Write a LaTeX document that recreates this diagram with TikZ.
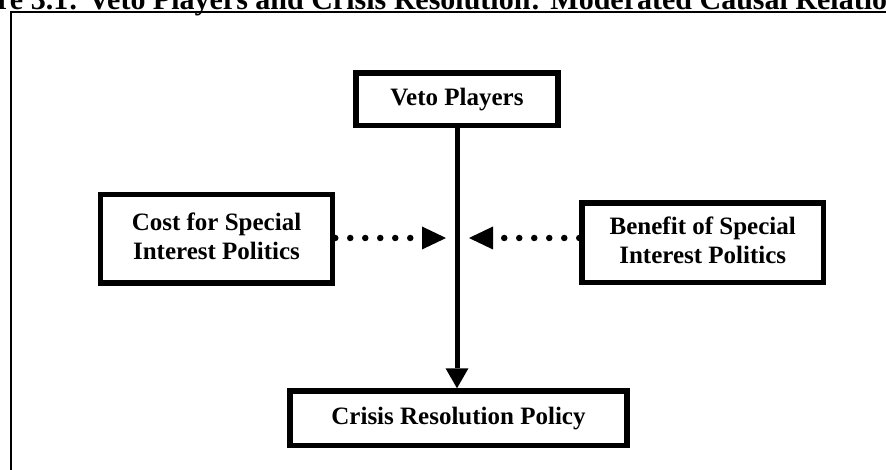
\documentclass[tikz,border=0pt]{standalone}
\usepackage{fontspec}
\setmainfont{Liberation Serif}
\usetikzlibrary{arrows.meta}
\begin{document}
\begin{tikzpicture}[x=1pt,y=-1pt,
  box/.style={draw, line width=5.5pt, align=center, inner sep=0pt,
    font=\fontsize{25}{29}\selectfont\bfseries},
  mainarrow/.style={line width=5pt, -{Triangle[length=20pt,width=23pt,line width=0pt]}},
  dotarrow/.style={line width=6.5pt, line cap=round, dash pattern=on 0pt off 15pt,
    -{Triangle[length=24pt,width=23pt,line width=0pt]}}]
\useasboundingbox (0,0) rectangle (886,470);
\clip (0,0) rectangle (886,470);
% frame
\draw[line width=2pt] (10.5,12) -- (900,12);
\draw[line width=1.5pt] (11,11.5) -- (11,480);
% title
\node[anchor=base west, inner sep=0pt, font=\fontsize{30}{34}\selectfont\bfseries] (title) at (-3,10)
  {re 3.1: Veto Players and Crisis Resolution: Moderated Causal Relatio};
% boxes
\node[box, minimum width=202pt, minimum height=52.5pt] (veto) at (457,99.25) {\raisebox{-1pt}{Veto Players}};
\node[box, minimum width=232pt, minimum height=88.5pt] (cost) at (216.5,238.75) {\raisebox{-1pt}{\begin{tabular}{@{}c@{}}Cost for Special\\Interest Politics\end{tabular}}};
\node[box, minimum width=241.5pt, minimum height=79.5pt] (benefit) at (702.75,242.75) {\raisebox{-4pt}{\begin{tabular}{@{}c@{}}Benefit of Special\\Interest Politics\end{tabular}}};
\node[box, minimum width=337pt, minimum height=54.5pt] (crisis) at (458.5,418.25) {\raisebox{-3pt}{Crisis Resolution Policy}};
% connectors
\coordinate (mid) at (457,238);
\draw[mainarrow] (veto.south -| mid) -- (crisis.north -| mid);
\draw[dotarrow] (cost.east |- mid) -- ([xshift=-11pt]mid);
\draw[dotarrow] (benefit.west |- mid) -- ([xshift=12pt]mid);
\end{tikzpicture}
\end{document}
